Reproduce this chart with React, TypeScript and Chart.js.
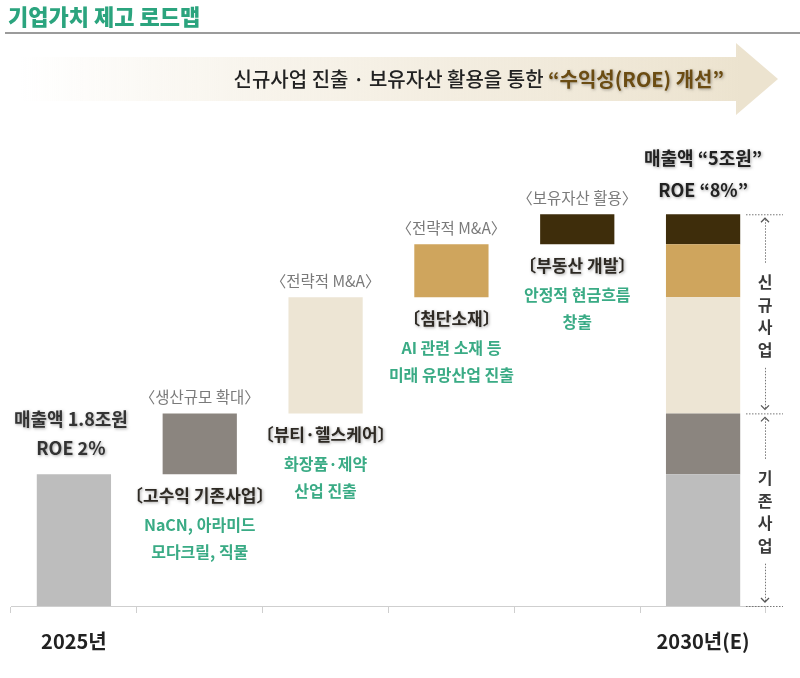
import React, { useEffect, useRef } from "react";
import { Chart, registerables } from "chart.js";

Chart.register(...registerables);

// Roadmap: 2025 base sales → growth steps → 2030 target (조원)
const yearLabels = ["2025년", "", "", "", "", "2030년(E)"];
const segmentNames = ["기존사업", "생산규모 확대", "뷰티·헬스케어", "첨단소재", "부동산 개발"];
const segmentValues = [1.8, 0.75, 1.43, 0.65, 0.37];
const segmentColors = ["#BDBDBD", "#8B857F", "#EDE5D4", "#CFA55D", "#3E2D0B"];
const stepHeaders = ["", "〈생산규모 확대〉", "〈전략적 M&A〉", "〈전략적 M&A〉", "〈보유자산 활용〉"];
const stepTitles = ["", "〔고수익 기존사업〕", "〔뷰티·헬스케어〕", "〔첨단소재〕", "〔부동산 개발〕"];
const stepDetails = [
  [],
  ["NaCN, 아라미드", "모다크릴, 직물"],
  ["화장품·제약", "산업 진출"],
  ["AI 관련 소재 등", "미래 유망산업 진출"],
  ["안정적 현금흐름", "창출"],
];
const startSales = 1.8;
const startRoe = 2;
const targetSales = 5;
const targetRoe = 8;

const FONT = '"Noto Sans CJK KR", "Noto Sans", sans-serif';
const GREEN = "#3AAB85";

function buildDatasets() {
  const sets: any[] = [];
  let cum = 0;
  segmentValues.forEach((v, i) => {
    const start = cum;
    const end = cum + v;
    cum = end;
    const data: any[] = yearLabels.map(() => null);
    data[i] = [start, end];
    data[yearLabels.length - 1] = [start, end];
    sets.push({
      label: segmentNames[i],
      data,
      backgroundColor: segmentColors[i],
      borderWidth: 0,
      grouped: false,
      barPercentage: 0.59,
      categoryPercentage: 1,
    });
  });
  return sets;
}

function chevron(ctx: CanvasRenderingContext2D, x: number, y: number, up: boolean) {
  ctx.save();
  ctx.setLineDash([]);
  ctx.strokeStyle = "#555";
  ctx.lineWidth = 1.3;
  ctx.beginPath();
  const d = up ? 4 : -4;
  ctx.moveTo(x - 4, y + d);
  ctx.lineTo(x, y);
  ctx.lineTo(x + 4, y + d);
  ctx.stroke();
  ctx.restore();
}

function dotted(ctx: CanvasRenderingContext2D, x1: number, y1: number, x2: number, y2: number) {
  ctx.save();
  ctx.strokeStyle = "#777";
  ctx.lineWidth = 1;
  ctx.setLineDash([1.5, 1.5]);
  ctx.beginPath();
  ctx.moveTo(x1, y1);
  ctx.lineTo(x2, y2);
  ctx.stroke();
  ctx.restore();
}

function shadowText(ctx: CanvasRenderingContext2D, text: string, x: number, y: number) {
  ctx.save();
  ctx.shadowColor = "rgba(0,0,0,0.35)";
  ctx.shadowBlur = 3;
  ctx.shadowOffsetX = 1;
  ctx.shadowOffsetY = 1;
  ctx.fillText(text, x, y);
  ctx.restore();
}

const roadmapText = {
  id: "roadmapText",
  afterDraw(chart: any) {
    const { ctx, chartArea } = chart;
    const xs = chart.scales.x;
    const ys = chart.scales.y;
    ctx.save();
    ctx.textBaseline = "middle";

    // Title and rule
    ctx.font = `900 22px ${FONT}`;
    ctx.fillStyle = "#2BA47E";
    ctx.textAlign = "left";
    ctx.fillText("기업가치 제고 로드맵", 8, 17);
    ctx.strokeStyle = "#9B9B9B";
    ctx.lineWidth = 2;
    ctx.beginPath();
    ctx.moveTo(5, 33);
    ctx.lineTo(800, 33);
    ctx.stroke();

    // Direction arrow
    const grad = ctx.createLinearGradient(20, 0, 740, 0);
    grad.addColorStop(0, "rgba(238,229,210,0)");
    grad.addColorStop(0.35, "rgba(238,229,210,0.45)");
    grad.addColorStop(1, "rgba(236,227,207,1)");
    ctx.fillStyle = grad;
    ctx.beginPath();
    ctx.moveTo(20, 57);
    ctx.lineTo(736, 57);
    ctx.lineTo(736, 43);
    ctx.lineTo(778, 79);
    ctx.lineTo(736, 115);
    ctx.lineTo(736, 101);
    ctx.lineTo(20, 101);
    ctx.closePath();
    ctx.fill();

    const strong = "“수익성(ROE) 개선”";
    const plain = "신규사업 진출 · 보유자산 활용을 통한 ";
    ctx.font = `bold 20px ${FONT}`;
    const sw = ctx.measureText(strong).width;
    ctx.textAlign = "right";
    ctx.fillStyle = "#6B4C12";
    shadowText(ctx, strong, 724, 79);
    ctx.font = `500 20px ${FONT}`;
    ctx.fillStyle = "#222";
    ctx.fillText(plain, 724 - sw, 79);

    // Step annotations
    ctx.textAlign = "center";
    let cum = 0;
    segmentValues.forEach((v, i) => {
      const start = cum;
      const end = cum + v;
      cum = end;
      const cx = xs.getPixelForValue(i);
      const top = ys.getPixelForValue(end);
      const bottom = ys.getPixelForValue(start);
      if (i === 0) {
        ctx.font = `bold 18px ${FONT}`;
        ctx.fillStyle = "#333";
        shadowText(ctx, `매출액 ${startSales}조원`, cx - 3, top - 55);
        shadowText(ctx, `ROE ${startRoe}%`, cx - 3, top - 26);
        return;
      }
      ctx.font = `15.5px ${FONT}`;
      ctx.fillStyle = "#7A7A7A";
      ctx.fillText(stepHeaders[i], cx, top - 16);
      ctx.font = `bold 17px ${FONT}`;
      ctx.fillStyle = "#2E2A24";
      shadowText(ctx, stepTitles[i], cx, bottom + 21);
      ctx.font = `bold 16px ${FONT}`;
      ctx.fillStyle = GREEN;
      stepDetails[i].forEach((line, k) => {
        ctx.fillText(line, cx, bottom + 51 + k * 27);
      });
    });

    // Target labels
    const lastX = xs.getPixelForValue(yearLabels.length - 1);
    const totalTop = ys.getPixelForValue(cum);
    ctx.font = `bold 18px ${FONT}`;
    ctx.fillStyle = "#222";
    shadowText(ctx, `매출액 “${targetSales}조원”`, lastX, totalTop - 56);
    shadowText(ctx, `ROE “${targetRoe}%”`, lastX, totalTop - 24);

    // Existing / new business brackets
    const bx = chartArea.right - 1;
    const split = ys.getPixelForValue(segmentValues[0] + segmentValues[1]);
    const base = chartArea.bottom;
    [totalTop, split, base].forEach((y) => dotted(ctx, bx - 19, y + 0.5, bx + 18, y + 0.5));
    const groups = [
      { label: "신규사업", a: totalTop, b: split },
      { label: "기존사업", a: split, b: base },
    ];
    groups.forEach((g) => {
      const mid = (g.a + g.b) / 2 + 2;
      chevron(ctx, bx, g.a + 4, true);
      dotted(ctx, bx + 0.5, g.a + 5, bx + 0.5, mid - 52);
      dotted(ctx, bx + 0.5, mid + 52, bx + 0.5, g.b - 5);
      chevron(ctx, bx, g.b - 4, false);
      ctx.font = `bold 16px ${FONT}`;
      ctx.fillStyle = "#3A3A3A";
      [...g.label].forEach((ch, k) => {
        ctx.fillText(ch, bx, mid + (k - 1.5) * 22.5);
      });
    });
    ctx.restore();
  },
};

export default function App() {
  const canvasRef = useRef<HTMLCanvasElement | null>(null);

  useEffect(() => {
    if (!canvasRef.current) return;
    const chart = new Chart(canvasRef.current, {
      type: "bar",
      data: { labels: yearLabels, datasets: buildDatasets() },
      options: {
        responsive: false,
        animation: false,
        devicePixelRatio: 1,
        layout: { padding: { left: 11, right: 34, top: 133, bottom: 9 } },
        plugins: { legend: { display: false }, tooltip: { enabled: false } },
        scales: {
          x: {
            grid: {
              offset: true,
              drawOnChartArea: false,
              drawTicks: true,
              tickLength: 7,
              color: "#CFCFCF",
            },
            border: { color: "#CFCFCF" },
            ticks: {
              autoSkip: false,
              maxRotation: 0,
              padding: 16,
              color: "#222",
              font: { family: FONT, size: 20, weight: "bold" },
            },
          },
          y: { display: false, min: 0.18, max: 6.0 },
        },
      },
      plugins: [roadmapText],
    });
    return () => chart.destroy();
  }, []);

  return (
    <div style={{ position: "fixed", left: 0, top: 0, width: 800, height: 678, background: "#fff" }}>
      <canvas ref={canvasRef} width={800} height={678} style={{ display: "block" }} />
    </div>
  );
}
